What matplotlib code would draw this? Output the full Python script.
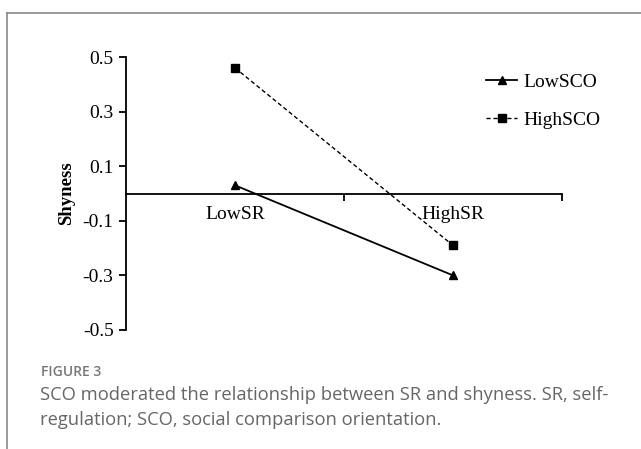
import matplotlib.pyplot as plt
from matplotlib.lines import Line2D

# data
groups = ["LowSR", "HighSR"]
low_sco = [0.03, -0.30]
high_sco = [0.46, -0.19]
yticks = [-0.5, -0.3, -0.1, 0.1, 0.3, 0.5]

W, H = 641, 449
fig = plt.figure(figsize=(W / 100, H / 100), dpi=100)
serif = "Liberation Serif"

# axes box in pixels: x 126..562, y 57..330
ax = fig.add_axes([126 / W, (H - 330) / H, 436 / W, 273 / H])
ax.set_xlim(0, 2)
ax.set_ylim(-0.5, 0.5)

xpos = [0.5, 1.5]
ax.plot(xpos, low_sco, color="black", lw=1.3, marker="^", ms=6, label="LowSCO")
ax.plot(xpos, high_sco, color="black", lw=1.0, ls=(0, (3, 2)), marker="s", ms=5.5,
        label="HighSCO")

for s in ["top", "right"]:
    ax.spines[s].set_visible(False)
ax.spines["bottom"].set_position(("data", 0))
ax.spines["left"].set_linewidth(1.3)
ax.spines["bottom"].set_linewidth(1.3)

ax.set_yticks(yticks)
ax.set_yticklabels([f"{v:.1f}" for v in yticks], fontfamily=serif, fontsize=14)
ax.tick_params(axis="y", direction="out", length=5, width=1.3, pad=4)

ax.set_xticks([1, 2])
ax.set_xticklabels(["", ""])
ax.set_xticks(xpos, minor=True)
ax.set_xticklabels(groups, minor=True, fontfamily=serif, fontsize=14)
ax.tick_params(axis="x", which="major", direction="out", length=5, width=1.3)
ax.tick_params(axis="x", which="minor", length=0, pad=9)

ax.set_ylabel("Shyness", fontfamily=serif, fontsize=13.5, fontweight="bold", labelpad=5)

ax.legend(loc="upper left", bbox_to_anchor=(486 / W, 1 - 73 / H),
          bbox_transform=fig.transFigure, frameon=False, borderaxespad=0, borderpad=0,
          prop={"family": serif, "size": 14}, handlelength=1.6, labelspacing=1.05,
          handletextpad=0.3)

# card frame
fig.add_artist(Line2D([7 / W, 7 / W], [0, 1 - 13 / H], color="#888888", lw=1.2))
fig.add_artist(Line2D([7 / W, 1], [1 - 13 / H, 1 - 13 / H], color="#888888", lw=1.2))

# caption
fig.text(41 / W, 1 - 376 / H, "FIGURE 3", fontfamily="Open Sans", fontsize=10,
         fontweight="semibold", color="#777777", va="baseline")
fig.text(40 / W, 1 - 400 / H,
         "SCO moderated the relationship between SR and shyness. SR, self-",
         fontfamily="Open Sans", fontsize=13.2, color="#666666", va="baseline")
fig.text(40 / W, 1 - 425 / H, "regulation; SCO, social comparison orientation.",
         fontfamily="Open Sans", fontsize=13.2, color="#666666", va="baseline")

fig.savefig("out.png", dpi=100)
